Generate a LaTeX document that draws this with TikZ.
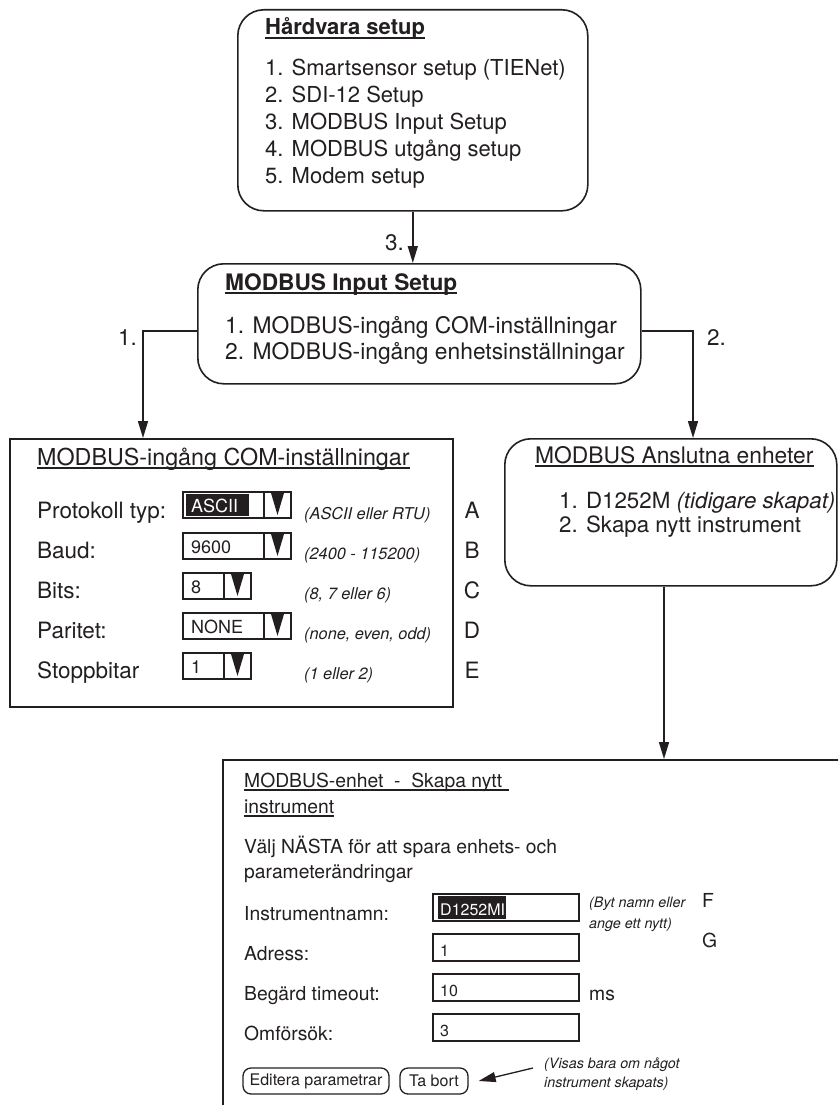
\documentclass[tikz,border=0pt]{standalone}
\usepackage{fontspec}
\setmainfont{TeX Gyre Heros}
\usetikzlibrary{arrows.meta,calc}
\definecolor{ink}{RGB}{35,31,32}
\newcommand\fs[1]{\fontsize{#1}{#1}\selectfont}

% drop-down selector: name, left x, bottom y, right x, value
\newcommand\ddmenu[5]{%
  \draw[field] (#2,#3) rectangle (#4,#3-26);
  \draw[field] (#4-27,#3) -- (#4-27,#3-26);
  \fill[ink] (#4-20.3,#3-26) -- (#4-6.7,#3-26) -- (#4-13.5,#3-3) -- cycle;
  \node[val] (#1) at (#2+8,#3-6) {#5};
}
% underline below a text node
\newcommand\ul[2][0]{\draw[uline] ([yshift=-3pt]#2.base west) -- ([yshift=-3pt,xshift=#1pt]#2.base east);}

\tikzset{
  box/.style={draw=ink, line width=1.6pt, inner sep=0pt, anchor=north west},
  rbox/.style={box, rounded corners=26pt},
  txt/.style={inner sep=0pt, anchor=base west, text=ink, font=\fs{22.5}},
  small/.style={txt, font=\fs{19.3}},
  hint/.style={txt, font=\fs{16.3}\itshape},
  note/.style={txt, font=\fs{14.3}\itshape},
  val/.style={txt, font=\fs{18}},
  sval/.style={txt, font=\fs{16}},
  field/.style={draw=ink, line width=1.2pt},
  btn/.style={draw=ink, line width=1.3pt, rounded corners=8pt, inner sep=0pt, text=ink, font=\fs{16}},
  uline/.style={draw=ink, line width=1.1pt},
  link/.style={draw=ink, line width=1.5pt, -{Triangle[length=17pt,width=10pt]}},
}

\begin{document}
\begin{tikzpicture}[x=1pt,y=-1pt]
\clip (0,0) rectangle (838,1105);
\fill[white] (0,0) rectangle (838,1105);

% ---------- Hårdvara setup ----------
\node[rbox, minimum width=350pt, minimum height=201pt] (hw) at (237,9) {};
\node[txt, font=\fs{22}\bfseries] (hwt) at (265,35) {Hårdvara setup};
\ul{hwt}
\node[txt, font=\fs{22}] (hw1) at (265,76) {1. Smartsensor setup (TIENet)};
\node[txt, font=\fs{22}] (hw2) at (265,103) {2. SDI-12 Setup};
\node[txt, font=\fs{22}] (hw3) at (265,130) {3. MODBUS Input Setup};
\node[txt, font=\fs{22}] (hw4) at (265,157) {4. MODBUS utgång setup};
\node[txt, font=\fs{22}] (hw5) at (265,183) {5. Modem setup};

% ---------- MODBUS Input Setup ----------
\node[rbox, minimum width=443pt, minimum height=120pt] (inp) at (197,263) {};
\node[txt, font=\fs{22.7}\bfseries] (inpt) at (225,290) {MODBUS Input Setup};
\ul{inpt}
\node[txt, font=\fs{22.8}] (inp1) at (225,333) {1. MODBUS-ingång COM-inställningar};
\node[txt, font=\fs{22.8}] (inp2) at (225,359) {2. MODBUS-ingång enhetsinställningar};

% ---------- COM settings ----------
\node[box, minimum width=443pt, minimum height=268pt] (com) at (9,438) {};
\node[txt, font=\fs{23.3}] (comt) at (37,465) {MODBUS-ingång COM-inställningar};
\ul{comt}

\node[txt] (pl1) at (37,518) {Protokoll typ:};
\node[txt] (pl2) at (37,558) {Baud:};
\node[txt] (pl3) at (37,598) {Bits:};
\node[txt] (pl4) at (37,638) {Paritet:};
\node[txt] (pl5) at (37,678) {Stoppbitar};

\ddmenu{dv1}{183}{518}{291}{}
\fill[ink] (186,494) rectangle (249,516);
\node[val, text=white] (ascii) at (191,512) {ASCII};
\ddmenu{dv2}{183}{559}{291}{9600}
\ddmenu{dv3}{183}{599}{251}{8}
\ddmenu{dv4}{183}{639}{291}{NONE}
\ddmenu{dv5}{183}{679}{251}{1}

\node[hint] (ph1) at (304,519) {(ASCII eller RTU)};
\node[hint] (ph2) at (304,559) {(2400 - 115200)};
\node[hint] (ph3) at (304,599) {(8, 7 eller 6)};
\node[hint] (ph4) at (304,639) {(none, even, odd)};
\node[hint] (ph5) at (304,679) {(1 eller 2)};

\node[txt, anchor=base] (kA) at (472,518) {A};
\node[txt, anchor=base] (kB) at (472,558) {B};
\node[txt, anchor=base] (kC) at (472,598) {C};
\node[txt, anchor=base] (kD) at (472,638) {D};
\node[txt, anchor=base] (kE) at (472,678) {E};

% ---------- Connected devices ----------
\node[rbox, minimum width=332pt, minimum height=147pt] (ans) at (504,438) {};
\node[txt, font=\fs{22.8}] (anst) at (535,463) {MODBUS Anslutna enheter};
\ul{anst}
\node[txt, font=\fs{22.3}] (ans1) at (559,508) {1. D1252M \textit{(tidigare skapat)}};
\node[txt, font=\fs{22.3}] (ans2) at (559,532) {2. Skapa nytt instrument};

% ---------- New instrument ----------
\node[box, line width=1.8pt, minimum width=800pt, minimum height=500pt] (bot) at (222,759) {};
\node[small] (bt1) at (244,787) {MODBUS-enhet\ \ -\ \ Skapa nytt};
\ul[7]{bt1}
\node[small] (bt2) at (244,813) {instrument};
\ul{bt2}
\node[small] (bs1) at (244,853) {Välj NÄSTA för att spara enhets- och};
\node[small] (bs2) at (244,878) {parameterändringar};

\node[small] (bl1) at (244,920) {Instrumentnamn:};
\node[small] (bl2) at (244,960) {Adress:};
\node[small] (bl3) at (244,1000) {Begärd timeout:};
\node[small] (bl4) at (244,1040) {Omförsök:};

\draw[field, line width=1.3pt] (433,894) rectangle (579,921);
\draw[field, line width=1.3pt] (433,934) rectangle (579,961);
\draw[field, line width=1.3pt] (433,974) rectangle (579,1001);
\draw[field, line width=1.3pt] (433,1014) rectangle (579,1041);
\fill[ink] (438,896) rectangle (506,919);
\node[sval, text=white] (bv1) at (440,915) {D1252MI};
\node[sval] (bv2) at (440,956) {1};
\node[sval] (bv3) at (440,996) {10};
\node[sval] (bv4) at (440,1036) {3};

\node[note] (bn1) at (589,907) {(Byt namn eller};
\node[note] (bn2) at (589,928) {ange ett nytt)};
\node[small] (kF) at (702,907) {F};
\node[small] (kG) at (702,947) {G};
\node[small] (ms) at (589,1000) {ms};

\node[btn, minimum width=146pt, minimum height=26pt] (edit) at (316,1081) {Editera parametrar};
\node[btn, minimum width=68pt, minimum height=26pt] (tabort) at (434,1081) {Ta bort};
\node[note] (vn1) at (544,1068) {(Visas bara om något};
\node[note] (vn2) at (544,1087) {instrument skapats)};

% ---------- connectors ----------
\draw[link] (hw.south) -- (hw.south |- inp.north);
\node[txt] (l3) at (385,250) {3.};

\coordinate (j1) at (143,331);
\draw[link] (inp.west |- j1) -| (com.north -| j1);
\node[txt] (l1) at (118,345) {1.};

\coordinate (j2) at (693,331);
\draw[link] (inp.east |- j2) -| (ans.north -| j2);
\node[txt] (l2) at (707,345) {2.};

\coordinate (j3) at (664,0);
\draw[link] (ans.south -| j3) -- (bot.north -| j3);

\coordinate (vs) at (533,1068);
\draw[link, line width=1.3pt] (vs) -- ([xshift=10pt]tabort.east);
\end{tikzpicture}
\end{document}
